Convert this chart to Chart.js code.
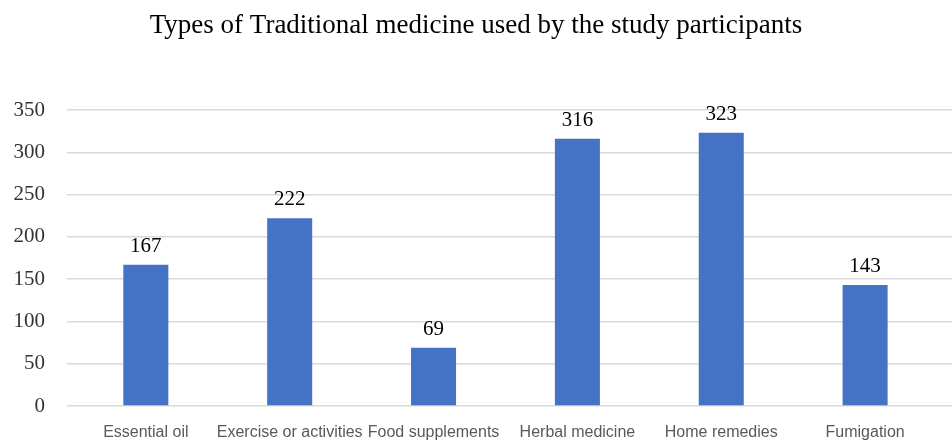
<!DOCTYPE html>
<html><head><meta charset="utf-8">
<script src="https://cdn.jsdelivr.net/npm/chart.js@4/dist/chart.umd.min.js"></script>
<style>html,body{margin:0;padding:0;background:#fff}#wrap{width:952px;height:441px}</style>
</head><body><div id="wrap"><canvas id="c"></canvas></div>
<script>
const categories = ["Essential oil","Exercise or activities","Food supplements","Herbal medicine","Home remedies","Fumigation"];
const values = [167,222,69,316,323,143];
const yTicks = [0,50,100,150,200,250,300,350];
const titleText = "Types of Traditional medicine used by the study participants";

const points = values.map((v,i)=>({x:i,y:v}));

const labelPlugin = {
  id:'vals',
  afterDatasetsDraw(chart){
    const ctx = chart.ctx;
    const meta = chart.getDatasetMeta(0);
    ctx.save();
    ctx.font = '21px "Liberation Serif", "Times New Roman", serif';
    ctx.fillStyle = '#000';
    ctx.textAlign = 'center';
    ctx.textBaseline = 'alphabetic';
    meta.data.forEach((bar,i)=>{
      ctx.fillText(String(values[i]), bar.x, bar.y - 13);
    });
    ctx.restore();
  }
};

new Chart(document.getElementById('c'), {
  type:'bar',
  data:{datasets:[{data:points,backgroundColor:'#4472C4',barPercentage:0.313,categoryPercentage:1}]},
  options:{
    responsive:true,maintainAspectRatio:false,animation:false,
    layout:{padding:{left:0,right:0,top:0,bottom:0}},
    plugins:{
      legend:{display:false},tooltip:{enabled:false},
      title:{display:true,text:titleText,color:'#000',font:{family:'"Liberation Serif", serif',size:27,weight:'normal'},padding:{top:9.5,bottom:68.1}}
    },
    scales:{
      x:{
        type:'linear',min:-0.548,max:5.604,offset:false,
        afterBuildTicks(s){s.ticks=categories.map((c,i)=>({value:i}));},
        grid:{display:false,drawTicks:false,offset:false},border:{display:false},
        ticks:{color:'#595959',font:{family:'"Liberation Sans", sans-serif',size:16},padding:17,maxRotation:0,autoSkip:false,
          callback:(v)=>categories[v]},
        afterFit(s){s.height=35;}
      },
      y:{
        min:0,max:350,
        afterBuildTicks(s){s.ticks=yTicks.map(v=>({value:v}));},
        grid:{color:'#d9d9d9',lineWidth:1.5,drawTicks:false},border:{display:false},
        ticks:{color:'#333333',font:{family:'"Liberation Serif", serif',size:21},padding:22},
        afterFit(s){s.width=67;}
      }
    }
  },
  plugins:[labelPlugin]
});
</script></body></html>
